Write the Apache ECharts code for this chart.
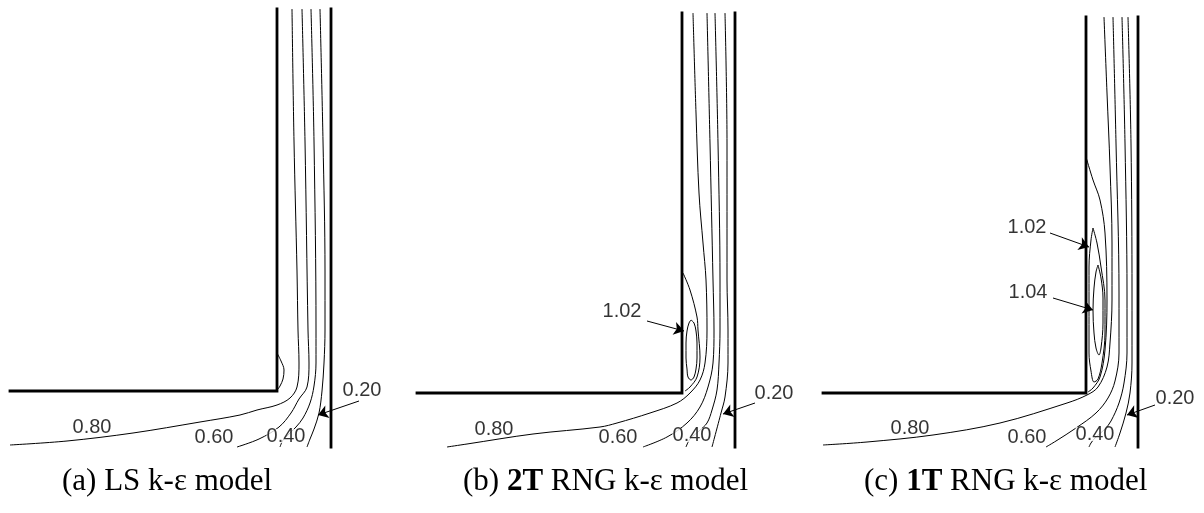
<!DOCTYPE html>
<html>
<head>
<meta charset="utf-8">
<script src="https://cdn.jsdelivr.net/npm/echarts@6/dist/echarts.min.js"></script>
<style>
  html, body { margin: 0; padding: 0; background: #fff; }
  #chart { width: 1204px; height: 513px; }
</style>
</head>
<body>
<div id="chart"></div>
<script>
// Coordinates: origin at the inner corner of each duct bend, x to the right, y upward.

// ---- Panel (a) LS k-eps ----
const wallInnerA = [[-267, 0], [0, 0], [0, 382]];
const wallOuterA = [[54, -56], [54, 382]];
const a100 = [[0, 38], [4, 30], [7, 21], [6, 12], [3, 5], [1, 2]];
const a080 = [[15, 382], [17, 250], [20, 120], [21, 61], [22, 28], [20, 4], [13, -7], [0, -14], [-20, -19], [-37, -24], [-77, -31], [-144, -42], [-210, -50], [-267, -54]];
const a060 = [[25, 382], [28, 250], [31, 61], [32, 28], [30, 4], [22, -8], [14, -22], [2, -36], [-18, -48], [-40, -56]];
const a040 = [[34, 382], [37, 250], [39, 61], [39, 28], [37, 5], [33, -12], [26, -27], [19, -36], [10, -45], [6, -49], [3, -56]];
const a020 = [[43, 382], [46, 250], [48, 120], [48, 61], [47, 28], [45, 0], [42, -22], [37, -38], [33, -48], [30, -56]];
const labelsA = [['0.80', -185, -36], ['0.60', -63, -46], ['0.40', 9, -45], ['0.20', 85, 1]];
const arrowsA = [[[82, -10], [41, -24]]];

// ---- Panel (b) 2T RNG k-eps ----
const wallInnerB = [[-265, 0], [0, 0], [0, 380]];
const wallOuterB = [[53, -54], [53, 380]];
const b100 = [[1, 120], [8, 103], [15, 76], [16, 63], [18, 36], [15, 16], [8, 6], [3, 2]];
const b102 = [[9, 73], [12, 70], [14, 62], [15, 50], [15, 35], [14, 24], [12, 16], [9, 13], [6, 16], [5, 24], [4, 35], [4, 50], [5, 62], [7, 70], [9, 73]];
const b080 = [[11, 380], [14, 280], [17, 200], [21, 150], [24, 113], [25, 63], [23, 30], [18, 13], [8, 0], [-5, -10], [-32, -20], [-65, -30], [-82, -34], [-149, -41], [-215, -51], [-235, -54]];
const b060 = [[25, 380], [28, 250], [31, 113], [32, 63], [31, 30], [26, 6], [18, -14], [5, -30], [-15, -44], [-39, -54]];
const b040 = [[33, 380], [36, 250], [38, 113], [38, 63], [37, 30], [35, 3], [30, -17], [25, -30], [17, -38], [8, -46], [4, -54]];
const b020 = [[43, 380], [45, 250], [45, 113], [46, 63], [46, 30], [43, -4], [39, -20], [30, -54]];
const labelsB = [['0.80', -188, -36], ['0.60', -64, -44], ['0.40', 10, -42], ['0.20', 92, 0], ['1.02', -60, 82]];
const arrowsB = [[[73, -10], [41, -21]], [[-35, 72], [2, 62]]];

// ---- Panel (c) 1T RNG k-eps ----
const wallInnerC = [[-263, 0], [0, 0], [0, 376]];
const wallOuterC = [[52, -54], [52, 376]];
const c100 = [[0, 236], [7, 213], [14, 193], [19, 160], [21, 93], [19, 43], [14, 16], [7, 5], [2, 1]];
const c102 = [[7, 165], [11, 150], [15, 126], [19, 93], [19, 60], [16, 30], [12, 14], [8, 11], [5, 22], [3, 40], [3, 60], [3, 93], [3, 126], [5, 153], [7, 165]];
const c104 = [[12, 128], [15, 115], [17, 95], [17, 70], [15, 45], [13, 38], [10, 45], [8, 60], [7, 83], [8, 105], [10, 121], [12, 128]];
const c080 = [[18, 376], [21, 300], [24, 226], [26, 150], [26, 93], [24, 50], [21, 26], [12, 6], [1, -2], [-19, -10], [-86, -30], [-153, -42], [-219, -49], [-263, -52]];
const c060 = [[27, 376], [30, 250], [33, 100], [33, 40], [29, 12], [22, -5], [10, -20], [-10, -35], [-30, -48], [-40, -54]];
const c040 = [[36, 376], [39, 250], [41, 100], [41, 40], [38, 10], [33, -10], [25, -28], [19, -36], [9, -45], [5, -50], [3, -54]];
const c020 = [[42, 376], [45, 250], [46, 100], [46, 30], [44, 0], [40, -20], [34, -40], [29, -54]];
const labelsC = [['0.80', -176, -35], ['0.60', -59, -44], ['0.40', 9, -41], ['0.20', 89, -5], ['1.02', -59, 166], ['1.04', -58, 101]];
const arrowsC = [[[69, -12], [41, -22]], [[-36, 160], [3, 146]], [[-33, 95], [7, 83]]];

const captions = ['(a) LS k-\u03b5 model', '(b) {b|2T} RNG k-\u03b5 model', '(c) {b|1T} RNG k-\u03b5 model'];

const panels = [
  { walls: [wallInnerA, wallOuterA], contours: [a100, a080, a060, a040, a020], labels: labelsA, arrows: arrowsA, left: 7, top: 1, capLeft: 57 },
  { walls: [wallInnerB, wallOuterB], contours: [b100, b102, b080, b060, b040, b020], labels: labelsB, arrows: arrowsB, left: 412, top: 3, capLeft: 458 },
  { walls: [wallInnerC, wallOuterC], contours: [c100, c102, c104, c080, c060, c040, c020], labels: labelsC, arrows: arrowsC, left: 816, top: 3, capLeft: 859 }
];

const serifFont = 'Liberation Serif, Times New Roman, serif';
const grids = [], xAxes = [], yAxes = [], series = [], titles = [];
panels.forEach((p, i) => {
  grids.push({ left: p.left, top: p.top, width: 388, height: 460 });
  xAxes.push({ type: 'value', gridIndex: i, min: -270, max: 118, show: false });
  yAxes.push({ type: 'value', gridIndex: i, min: -70, max: 390, show: false });
  p.contours.forEach(c => series.push({
    type: 'line', xAxisIndex: i, yAxisIndex: i, data: c, smooth: 0.35,
    showSymbol: false, silent: true, clip: false,
    lineStyle: { color: '#000', width: 1 }, z: 2
  }));
  p.walls.forEach(w => series.push({
    type: 'line', xAxisIndex: i, yAxisIndex: i, data: w,
    showSymbol: false, silent: true, clip: false,
    lineStyle: { color: '#000', width: 2.8, cap: 'square', join: 'miter' }, z: 3
  }));
  series.push({
    type: 'lines', coordinateSystem: 'cartesian2d', xAxisIndex: i, yAxisIndex: i,
    data: p.arrows.map(a => ({ coords: a })),
    symbol: ['none', 'arrow'], symbolSize: [6, 10], silent: true,
    lineStyle: { color: '#000', width: 1, opacity: 1 }, z: 4
  });
  series.push({
    type: 'scatter', xAxisIndex: i, yAxisIndex: i, symbolSize: 0, silent: true, z: 5,
    data: p.labels.map(l => ({ name: l[0], value: [l[1], l[2]] })),
    label: {
      show: true, position: 'inside', formatter: '{b}',
      fontFamily: 'Liberation Sans, Arial, sans-serif', fontSize: 20, color: '#000',
      backgroundColor: '#fff', lineHeight: 14, padding: [0, 0]
    }
  });
  titles.push({
    text: captions[i], left: p.capLeft, top: 461,
    textStyle: {
      fontFamily: serifFont, fontSize: 31, fontWeight: 'normal', color: '#000',
      rich: { b: { fontFamily: serifFont, fontSize: 31, fontWeight: 'bold', color: '#000' } }
    }
  });
});

const chart = echarts.init(document.getElementById('chart'), null, { renderer: 'canvas' });
chart.setOption({
  animation: false,
  backgroundColor: '#fff',
  title: titles,
  grid: grids,
  xAxis: xAxes,
  yAxis: yAxes,
  series: series
});
</script>
</body>
</html>
